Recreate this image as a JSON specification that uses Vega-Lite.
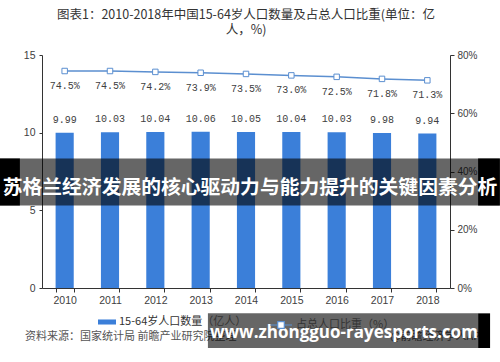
{
  "$schema": "https://vega.github.io/schema/vega-lite/v6.json",
  "width": 408,
  "height": 233,
  "autosize": {"type": "none"},
  "padding": {"left": 42, "top": 55, "right": 50, "bottom": 74},
  "background": "white",
  "title": {
    "text": ["图表1：2010-2018年中国15-64岁人口数量及占总人口比重(单位：亿", "人，%)"],
    "font": "Noto Sans CJK SC",
    "fontSize": 12.5,
    "fontWeight": "normal",
    "color": "#333333",
    "lineHeight": 15,
    "offset": 14,
    "anchor": "middle"
  },
  "data": {
    "values": [
      {"year": "2010", "pop": 9.99, "pct": 0.745},
      {"year": "2011", "pop": 10.03, "pct": 0.745},
      {"year": "2012", "pop": 10.04, "pct": 0.742},
      {"year": "2013", "pop": 10.06, "pct": 0.739},
      {"year": "2014", "pop": 10.05, "pct": 0.735},
      {"year": "2015", "pop": 10.04, "pct": 0.730},
      {"year": "2016", "pop": 10.03, "pct": 0.725},
      {"year": "2017", "pop": 9.98, "pct": 0.718},
      {"year": "2018", "pop": 9.94, "pct": 0.713}
    ]
  },
  "layer": [
    {
      "encoding": {
        "x": {
          "field": "year",
          "type": "ordinal",
          "scale": {"paddingInner": 0.6, "paddingOuter": 0.3},
          "axis": {"title": null, "labelAngle": 0, "tickBand": "extent", "tickSize": 4, "labelPadding": 3, "labelFontSize": 10.5}
        },
        "y": {
          "field": "pop",
          "type": "quantitative",
          "scale": {"domain": [0, 15]},
          "axis": {"title": null, "orient": "left", "values": [0, 5, 10, 15], "tickSize": 3, "labelPadding": 4, "labelFontSize": 10.5}
        }
      },
      "layer": [
        {
          "mark": {"type": "bar"},
          "encoding": {
            "fill": {
              "datum": "15-64岁人口数量（亿人）",
              "type": "nominal",
              "scale": {"range": ["#3b7fd9"]},
              "legend": {
                "orient": "bottom",
                "title": null,
                "symbolType": "M-1,-0.28H1V0.28H-1Z",
                "symbolSize": 324,
                "symbolStrokeWidth": 0,
                "labelFont": "Noto Sans CJK SC",
                "labelFontSize": 11,
                "labelColor": "#333333",
                "labelOffset": 3,
                "offset": 7
              }
            }
          }
        },
        {
          "mark": {"type": "text", "font": "Liberation Mono", "fontSize": 10, "color": "#404040", "baseline": "bottom", "dy": -8},
          "encoding": {"text": {"field": "pop", "type": "quantitative", "format": ".2f"}}
        }
      ]
    },
    {
      "encoding": {
        "x": {"field": "year", "type": "ordinal"},
        "y": {
          "field": "pct",
          "type": "quantitative",
          "scale": {"domain": [0, 0.8]},
          "axis": {"title": null, "orient": "right", "values": [0, 0.2, 0.4, 0.6, 0.8], "format": ".0%", "tickSize": 4, "labelPadding": 3, "labelFontSize": 10}
        }
      },
      "layer": [
        {
          "mark": {"type": "line", "strokeWidth": 1.5},
          "encoding": {
            "stroke": {
              "datum": "占总人口比重（%）",
              "type": "nominal",
              "scale": {"range": ["#5b8fd0"]},
              "legend": {
                "orient": "bottom",
                "title": null,
                "symbolType": "M-1,0H-0.3M0.3,0H1M-0.3,-0.3H0.3V0.3H-0.3Z",
                "symbolSize": 484,
                "symbolStrokeWidth": 1.2,
                "symbolFillColor": "white",
                "labelFont": "Noto Sans CJK SC",
                "labelFontSize": 11,
                "labelColor": "#333333",
                "labelOffset": 3,
                "offset": 7
              }
            }
          }
        },
        {
          "mark": {"type": "point", "shape": "square", "size": 30, "filled": true, "fill": "white", "stroke": "#5b8fd0", "strokeWidth": 1, "opacity": 1}
        },
        {
          "mark": {"type": "text", "font": "Liberation Mono", "fontSize": 10, "color": "#404040", "baseline": "middle", "dy": 15},
          "encoding": {"text": {"field": "pct", "type": "quantitative", "format": ".1%"}}
        }
      ]
    },
    {
      "data": {"values": [{"note": "overlay"}]},
      "layer": [
        {
          "mark": {"type": "text", "align": "left", "baseline": "middle", "font": "Noto Sans CJK SC", "fontSize": 11, "color": "#555555"},
          "encoding": {
            "x": {"datum": "2010", "type": "ordinal", "bandPosition": -1.69},
            "y": {"datum": -3.35, "type": "quantitative", "scale": {"domain": [0, 15]}, "axis": null},
            "text": {"value": "资料来源：国家统计局 前瞻产业研究院整理"}
          }
        },
        {
          "mark": {"type": "text", "align": "right", "baseline": "middle", "font": "Noto Sans CJK SC", "fontSize": 11, "color": "#555555"},
          "encoding": {
            "x": {"datum": "2018", "type": "ordinal", "bandPosition": 3.8},
            "y": {"datum": -3.35, "type": "quantitative"},
            "text": {"value": "@前瞻经济学人APP"}
          }
        },
        {
          "mark": {"type": "rect", "color": "black", "opacity": 0.6},
          "encoding": {
            "x": {"datum": "2010", "type": "ordinal", "bandPosition": -3.07},
            "x2": {"datum": "2018", "bandPosition": 4.5},
            "y": {"datum": 8.89, "type": "quantitative"},
            "y2": {"datum": 5.67}
          }
        },
        {
          "mark": {"type": "rect", "color": "black", "opacity": 1},
          "encoding": {
            "x": {"datum": "2010", "type": "ordinal", "bandPosition": -3.07},
            "x2": {"datum": "2010", "bandPosition": -1.97},
            "y": {"datum": 8.89, "type": "quantitative"},
            "y2": {"datum": 5.67}
          }
        },
        {
          "mark": {"type": "rect", "color": "black", "opacity": 1},
          "encoding": {
            "x": {"datum": "2018", "type": "ordinal", "bandPosition": 3.3},
            "x2": {"datum": "2018", "bandPosition": 4.5},
            "y": {"datum": 8.89, "type": "quantitative"},
            "y2": {"datum": 5.67}
          }
        },
        {
          "mark": {"type": "text", "align": "center", "baseline": "middle", "font": "Noto Sans CJK SC", "fontWeight": "bold", "fontSize": 19.8, "color": "white"},
          "encoding": {
            "x": {"datum": "2014", "type": "ordinal", "bandPosition": 0.72},
            "y": {"datum": 6.86, "type": "quantitative"},
            "text": {"value": "苏格兰经济发展的核心驱动力与能力提升的关键因素分析"}
          }
        },
        {
          "mark": {"type": "rect", "color": "black", "opacity": 0.6},
          "encoding": {
            "x": {"datum": "2013", "type": "ordinal", "bandPosition": 0.9},
            "x2": {"datum": "2018", "bandPosition": 3.3},
            "y": {"datum": -1.74, "type": "quantitative"},
            "y2": {"datum": -4.12}
          }
        },
        {
          "mark": {"type": "rect", "color": "black", "opacity": 1},
          "encoding": {
            "x": {"datum": "2018", "type": "ordinal", "bandPosition": 3.3},
            "x2": {"datum": "2018", "bandPosition": 3.96},
            "y": {"datum": -1.74, "type": "quantitative"},
            "y2": {"datum": -4.12}
          }
        },
        {
          "mark": {"type": "text", "align": "center", "baseline": "middle", "font": "Open Sans", "fontWeight": "bold", "fontSize": 17, "color": "white"},
          "encoding": {
            "x": {"datum": "2016", "type": "ordinal", "bandPosition": 0.9},
            "y": {"datum": -3.12, "type": "quantitative"},
            "text": {"value": "www.zhongguo-rayesports.com"}
          }
        }
      ]
    }
  ],
  "resolve": {"scale": {"y": "independent"}},
  "config": {
    "view": {"stroke": null},
    "axis": {
      "grid": false,
      "domainColor": "#333333",
      "tickColor": "#333333",
      "labelColor": "#404040",
      "labelFont": "Liberation Sans"
    },
    "legend": {
      "layout": {"bottom": {"anchor": "middle", "direction": "horizontal", "margin": 22}}
    }
  }
}
